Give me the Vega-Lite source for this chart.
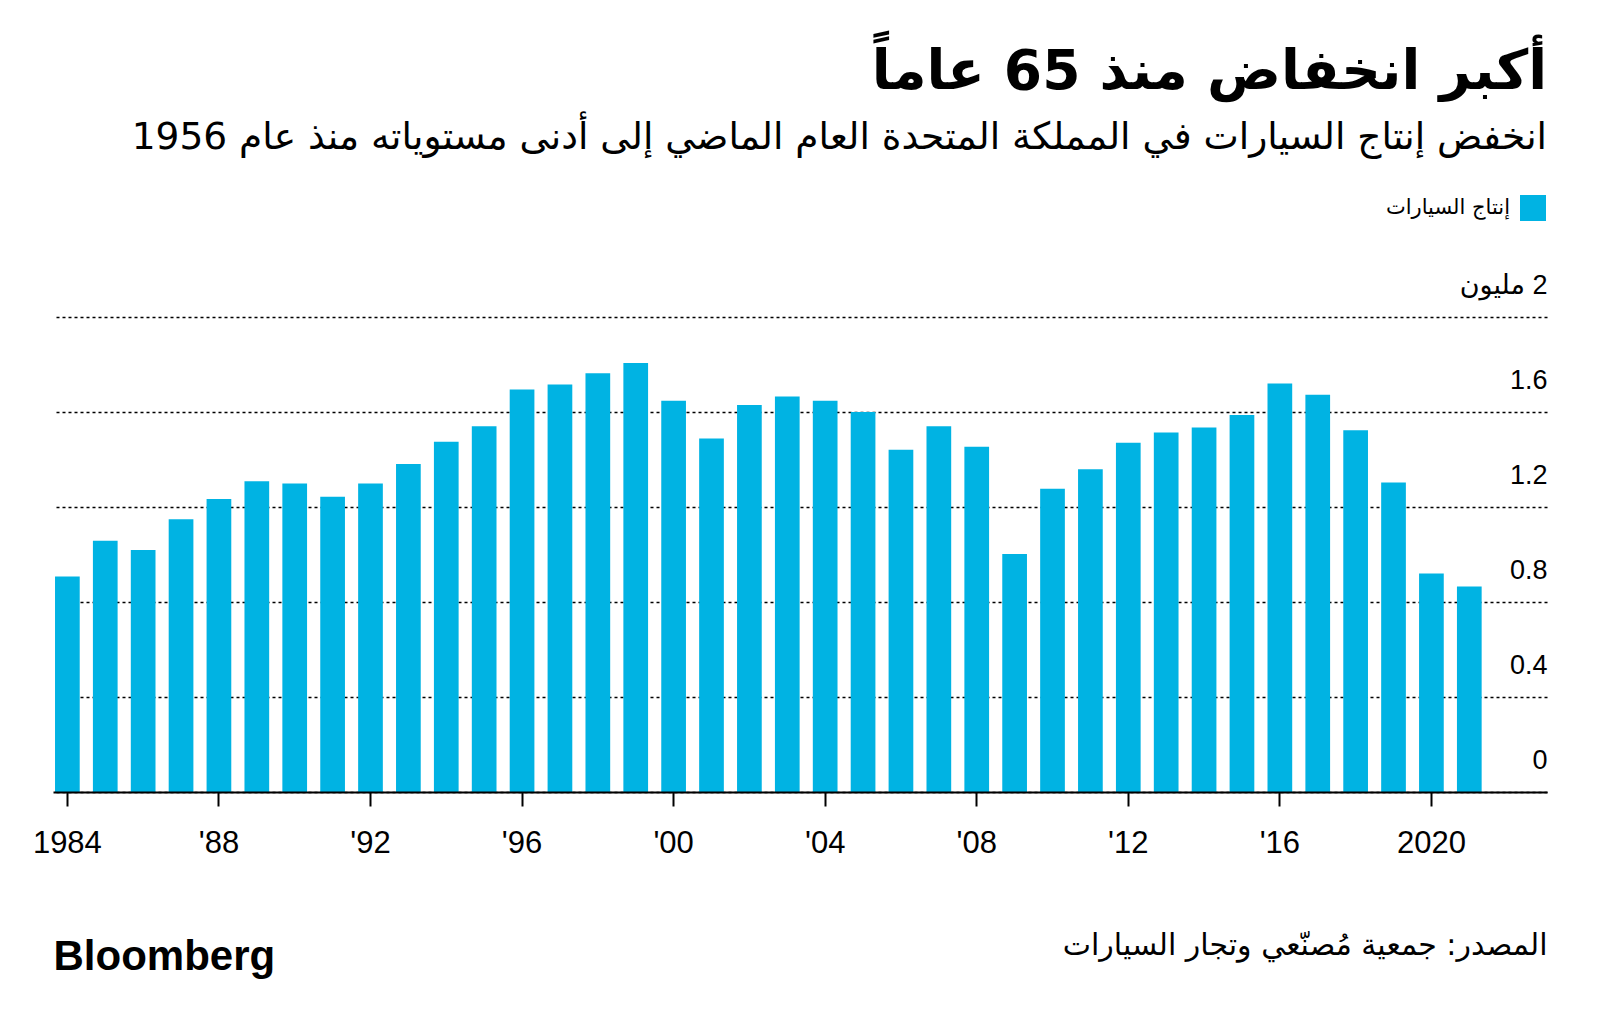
{
  "$schema": "https://vega.github.io/schema/vega-lite/v6.json",
  "width": 1494,
  "height": 475,
  "autosize": {"type": "none"},
  "padding": {"left": 53, "top": 317, "right": 53, "bottom": 241},
  "background": "white",
  "title": {
    "text": "أكبر انخفاض منذ 65 عاماً",
    "subtitle": "انخفض إنتاج السيارات في المملكة المتحدة العام الماضي إلى أدنى مستوياته منذ عام 1956",
    "anchor": "end",
    "frame": "group",
    "font": "DejaVu Sans",
    "fontSize": 55,
    "fontWeight": "bold",
    "color": "#000000",
    "subtitleFont": "DejaVu Sans",
    "subtitleFontSize": 37.5,
    "subtitleColor": "#000000",
    "subtitlePadding": 18,
    "offset": 38
  },
  "data": {
    "values": [
      {"year": 1984, "production": 0.907},
      {"year": 1985, "production": 1.058},
      {"year": 1986, "production": 1.019},
      {"year": 1987, "production": 1.148},
      {"year": 1988, "production": 1.234},
      {"year": 1989, "production": 1.308},
      {"year": 1990, "production": 1.299},
      {"year": 1991, "production": 1.243},
      {"year": 1992, "production": 1.299},
      {"year": 1993, "production": 1.381},
      {"year": 1994, "production": 1.475},
      {"year": 1995, "production": 1.540},
      {"year": 1996, "production": 1.695},
      {"year": 1997, "production": 1.716},
      {"year": 1998, "production": 1.763},
      {"year": 1999, "production": 1.806},
      {"year": 2000, "production": 1.647},
      {"year": 2001, "production": 1.488},
      {"year": 2002, "production": 1.630},
      {"year": 2003, "production": 1.665},
      {"year": 2004, "production": 1.647},
      {"year": 2005, "production": 1.600},
      {"year": 2006, "production": 1.441},
      {"year": 2007, "production": 1.540},
      {"year": 2008, "production": 1.454},
      {"year": 2009, "production": 1.002},
      {"year": 2010, "production": 1.277},
      {"year": 2011, "production": 1.359},
      {"year": 2012, "production": 1.471},
      {"year": 2013, "production": 1.514},
      {"year": 2014, "production": 1.535},
      {"year": 2015, "production": 1.587},
      {"year": 2016, "production": 1.720},
      {"year": 2017, "production": 1.673},
      {"year": 2018, "production": 1.523},
      {"year": 2019, "production": 1.303},
      {"year": 2020, "production": 0.920},
      {"year": 2021, "production": 0.865}
    ]
  },
  "mark": {"type": "bar"},
  "encoding": {
    "x": {
      "field": "year",
      "type": "ordinal",
      "scale": {"paddingInner": 0.348, "paddingOuter": 0.889, "align": 0.03},
      "axis": {
        "values": [1984, 1988, 1992, 1996, 2000, 2004, 2008, 2012, 2016, 2020],
        "labelExpr": "datum.value == 1984 || datum.value == 2020 ? datum.label : \"'\" + slice(datum.label, 2)",
        "labelAngle": 0,
        "labelFont": "Liberation Sans",
        "labelFontSize": 31,
        "labelColor": "#000000",
        "labelPadding": 22,
        "ticks": true,
        "tickSize": 14,
        "tickColor": "#000000",
        "tickWidth": 2,
        "domainColor": "#000000",
        "domainWidth": 2,
        "grid": false,
        "title": "المصدر: جمعية مُصنّعي وتجار السيارات",
        "titleFont": "DejaVu Sans",
        "titleFontSize": 30,
        "titleFontWeight": "normal",
        "titleColor": "#000000",
        "titleAnchor": "end",
        "titlePadding": 72,
        "zindex": 1
      }
    },
    "y": {
      "field": "production",
      "type": "quantitative",
      "scale": {"domain": [0, 2], "nice": false},
      "axis": {
        "orient": "right",
        "values": [0, 0.4, 0.8, 1.2, 1.6, 2],
        "format": ".1~f",
        "labelExpr": "datum.value == 2 ? 'مليون\u200e 2' : datum.label",
        "labelAlign": "right",
        "labelBaseline": "alphabetic",
        "labelOffset": -24,
        "labelPadding": 0,
        "ticks": false,
        "tickSize": 0,
        "domain": false,
        "grid": true,
        "gridColor": "#000000",
        "gridDash": [3, 3],
        "gridWidth": 1.5,
        "labelFont": "Liberation Sans, DejaVu Sans",
        "labelFontSize": 27,
        "labelColor": "#000000",
        "title": "Bloomberg",
        "titleAngle": 0,
        "titleX": -1494,
        "titleY": 652,
        "titleAlign": "left",
        "titleBaseline": "alphabetic",
        "titleFont": "Liberation Sans",
        "titleFontSize": 42,
        "titleFontWeight": "bold",
        "titleColor": "#000000"
      }
    },
    "color": {
      "datum": "إنتاج السيارات",
      "type": "nominal",
      "scale": {"range": ["#00b3e3"]},
      "legend": {
        "orient": "none",
        "legendX": 1467,
        "legendY": -122,
        "title": null,
        "symbolType": "square",
        "symbolSize": 676,
        "symbolStrokeWidth": 0,
        "symbolOpacity": 1,
        "labelFont": "DejaVu Sans",
        "labelFontSize": 21,
        "labelColor": "#000000",
        "labelAlign": "right",
        "labelOffset": -36,
        "padding": 0
      }
    }
  },
  "config": {"view": {"stroke": null}}
}
